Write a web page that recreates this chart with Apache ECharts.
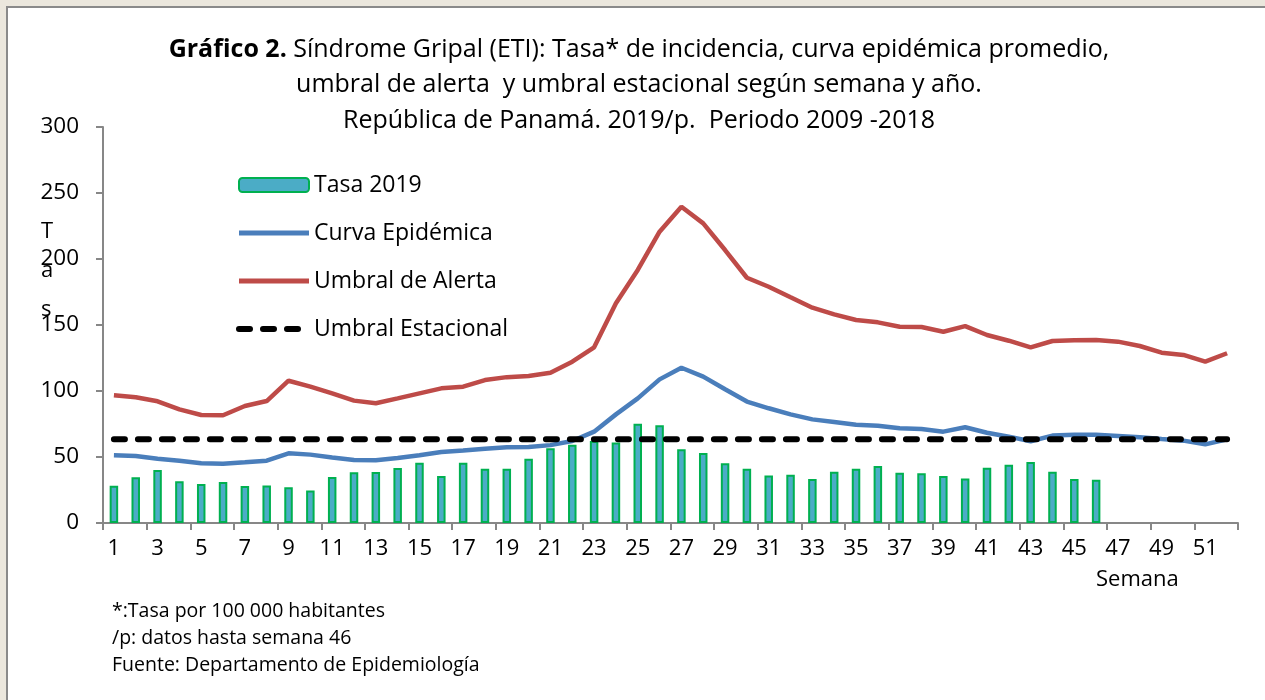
<!DOCTYPE html>
<html>
<head>
<meta charset="utf-8">
<script src="https://cdn.jsdelivr.net/npm/echarts@6/dist/echarts.min.js"></script>
<style>
  html, body { margin: 0; padding: 0; background: #ebe7dd; }
  #chart { width: 1265px; height: 700px; }
</style>
</head>
<body>
<div id="chart"></div>
<script>
// semanas epidemiológicas 1..52
const semanas = Array.from({ length: 52 }, (_, i) => String(i + 1))

// Tasa 2019 (datos hasta semana 46)
const tasa2019 = [
  28.3, 34.6, 40.2, 31.6, 29.5, 31.0, 28.0, 28.5, 27.0, 24.7,
  34.8, 38.4, 38.6, 41.7, 45.7, 35.6, 45.7, 41.1, 41.1, 48.7,
  56.6, 59.3, 62.1, 60.9, 75.2, 74.0, 55.8, 53.0, 45.2, 41.1,
  35.9, 36.6, 33.3, 38.9, 41.1, 43.2, 38.1, 37.6, 35.6, 33.8,
  41.9, 44.2, 46.2, 38.9, 33.3, 32.8
]

const curvaEpidemica = [
  51.3, 50.8, 48.7, 47.2, 45.2, 44.9, 46.0, 47.2, 52.8, 51.8,
  49.7, 47.7, 47.5, 49.2, 51.3, 53.8, 55.0, 56.3, 57.3, 57.6,
  59.0, 62.1, 69.2, 82.3, 94.4, 108.8, 117.6, 110.9, 101.3, 92.0,
  86.9, 82.3, 78.5, 76.5, 74.5, 73.7, 71.7, 71.2, 69.2, 72.5,
  68.4, 65.4, 61.9, 66.2, 66.9, 66.9, 66.0, 64.9, 63.6, 62.4,
  59.6, 63.4
]

const umbralAlerta = [
  96.7, 95.2, 92.2, 86.1, 81.8, 81.6, 88.6, 92.4, 107.8, 103.3,
  98.2, 92.7, 90.7, 94.4, 98.2, 102.0, 103.3, 108.3, 110.5, 111.4,
  113.9, 122.2, 133.1, 166.4, 191.7, 220.7, 239.6, 227.0, 206.8, 185.8,
  179.0, 171.0, 163.1, 158.1, 153.8, 152.0, 148.7, 148.5, 144.9, 149.2,
  142.4, 138.1, 133.1, 137.9, 138.4, 138.6, 137.4, 134.1, 129.0, 127.3,
  122.2, 128.6
]

const umbralEstacional = semanas.map(() => 63.4)

const yTicks = { min: 0, max: 300, interval: 50 }

const font = '"Open Sans", "Noto Sans", sans-serif'
const axisGray = '#878787'
const azul = '#4a7ebb'
const rojo = '#be4b48'

const chart = echarts.init(document.getElementById('chart'))

const option = {
  animation: false,
  backgroundColor: '#ebe7dd',
  textStyle: { fontFamily: font, color: '#000' },
  graphic: [
    {
      type: 'rect',
      z: -10,
      shape: { x: 7, y: 7, width: 1300, height: 720 },
      style: { fill: '#fff', stroke: '#8a8a8a', lineWidth: 2 }
    },
    {
      type: 'text',
      left: 41,
      top: 212,
      style: { text: 'T\na\ns', fontFamily: font, fontSize: 22, lineHeight: 39, fill: '#000' }
    },
    {
      type: 'text',
      left: 1096,
      top: 569,
      style: { text: 'Semana', fontFamily: font, fontSize: 22, fill: '#000' }
    },
    {
      type: 'text',
      left: 112,
      top: 598,
      style: {
        text: '*:Tasa por 100 000 habitantes\n/p: datos hasta semana 46\nFuente: Departamento de Epidemiología',
        fontFamily: font, fontSize: 19.5, lineHeight: 27, fill: '#000'
      }
    }
  ],
  title: {
    left: 634,
    top: 27,
    textAlign: 'center',
    text: '{b|Gráfico 2.} Síndrome Gripal (ETI): Tasa* de incidencia, curva epidémica promedio,\numbral de alerta  y umbral estacional según semana y año.\nRepública de Panamá. 2019/p.  Periodo 2009 -2018',
    textStyle: {
      fontFamily: font,
      fontSize: 25,
      fontWeight: 'normal',
      lineHeight: 35.5,
      color: '#000',
      rich: {
        b: { fontFamily: font, fontSize: 25, fontWeight: 'bold', lineHeight: 35.5, color: '#000' }
      }
    }
  },
  legend: {
    orient: 'vertical',
    left: 231,
    top: 168,
    itemWidth: 70,
    itemHeight: 14,
    itemGap: 24,
    textStyle: { fontFamily: font, fontSize: 23, lineHeight: 24, color: '#000' },
    data: [
      { name: 'Tasa 2019' },
      { name: 'Curva Epidémica', itemStyle: { opacity: 0 }, lineStyle: { width: 5 } },
      { name: 'Umbral de Alerta', itemStyle: { opacity: 0 }, lineStyle: { width: 5 } },
      { name: 'Umbral Estacional', itemStyle: { opacity: 0 }, lineStyle: { width: 6 } }
    ]
  },
  grid: {
    left: 103,
    right: 27,
    top: 127,
    bottom: 177
  },
  xAxis: {
    type: 'category',
    data: semanas,
    boundaryGap: true,
    axisLine: { lineStyle: { color: axisGray, width: 2 } },
    axisTick: { show: true, length: 7, lineStyle: { color: axisGray, width: 2 } },
    axisLabel: { interval: 1, margin: 15, fontFamily: font, fontSize: 22, color: '#000' }
  },
  yAxis: {
    type: 'value',
    min: yTicks.min,
    max: yTicks.max,
    interval: yTicks.interval,
    axisLine: { show: true, lineStyle: { color: axisGray, width: 2 } },
    axisTick: { show: true, length: 7, lineStyle: { color: axisGray, width: 2 } },
    axisLabel: { margin: 24, fontFamily: font, fontSize: 22.5, color: '#000' },
    splitLine: { show: false }
  },
  series: [
    {
      name: 'Tasa 2019',
      type: 'bar',
      barWidth: 8.5,
      itemStyle: { color: '#4bacc6', borderColor: '#00b050', borderWidth: 2 },
      data: tasa2019
    },
    {
      name: 'Curva Epidémica',
      type: 'line',
      symbol: 'none',
      lineStyle: { color: azul, width: 4.5 },
      itemStyle: { color: azul },
      data: curvaEpidemica
    },
    {
      name: 'Umbral de Alerta',
      type: 'line',
      symbol: 'none',
      lineStyle: { color: rojo, width: 4.5 },
      itemStyle: { color: rojo },
      data: umbralAlerta
    },
    {
      name: 'Umbral Estacional',
      type: 'line',
      symbol: 'none',
      lineStyle: { color: '#000', width: 6, type: [11, 13], cap: 'round' },
      itemStyle: { color: '#000' },
      data: umbralEstacional
    }
  ]
}

chart.setOption(option)
window.addEventListener('resize', () => {
  chart.resize()
})
</script>
</body>
</html>
